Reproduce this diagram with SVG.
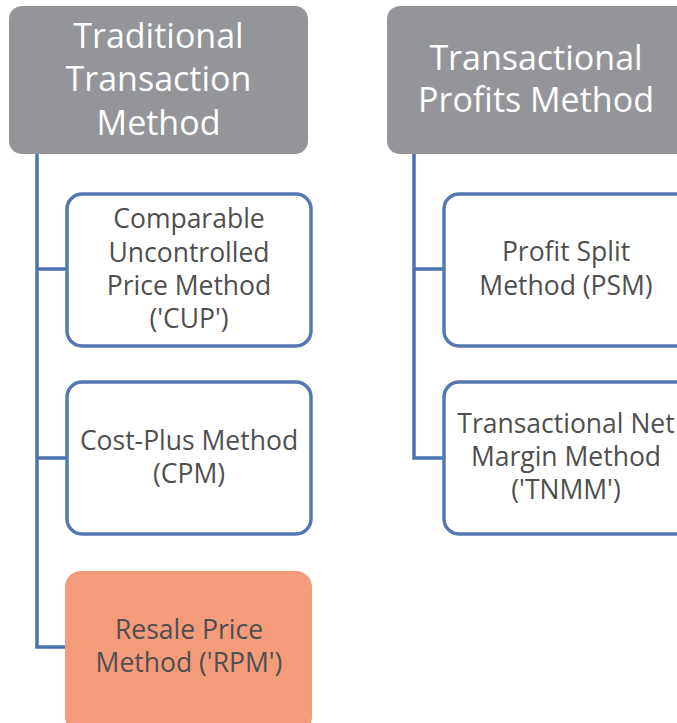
<svg xmlns="http://www.w3.org/2000/svg" width="677" height="723" viewBox="0 0 677 723">
<defs>
<style>
.hdr{fill:#949598;}
.hdrt{fill:#ffffff;font-family:"Open Sans","Noto Sans",sans-serif;font-size:34px;text-anchor:middle;}
.box{fill:#ffffff;stroke:#5578b3;stroke-width:3.5;}
.hot{fill:#f49b7b;stroke:#f39a7a;stroke-width:2;}
.bt{fill:#4f4f4f;font-family:"Open Sans","Noto Sans",sans-serif;font-size:26.5px;text-anchor:middle;}
.con{fill:none;stroke:#4b72b3;stroke-width:3.5;}
</style>
</defs>
<g id="connectors">
<path class="con" d="M37,154 V647 H67 M37,269 H67 M37,458 H67"/>
<path class="con" d="M414,154 V458 H444 M414,269 H444"/>
</g>
<g id="traditional">
<rect class="hdr" x="9" y="6" width="299" height="148" rx="13"/>
<text class="hdrt" x="158.5" y="48">Traditional</text>
<text class="hdrt" x="158.5" y="91">Transaction</text>
<text class="hdrt" x="158.5" y="135">Method</text>
</g>
<g id="transactional">
<rect class="hdr" x="387" y="6" width="310" height="148" rx="13"/>
<text class="hdrt" x="536" y="70">Transactional</text>
<text class="hdrt" x="536" y="112">Profits Method</text>
</g>
<g id="cup">
<rect class="box" x="67" y="194" width="244" height="152" rx="15"/>
<text class="bt" x="189" y="228">Comparable</text>
<text class="bt" x="189" y="262">Uncontrolled</text>
<text class="bt" x="189" y="295">Price Method</text>
<text class="bt" x="189" y="328">('CUP')</text>
</g>
<g id="cpm">
<rect class="box" x="67" y="382" width="244" height="152" rx="15"/>
<text class="bt" x="189" y="450">Cost-Plus Method</text>
<text class="bt" x="189" y="483">(CPM)</text>
</g>
<g id="rpm">
<rect class="hot" x="66" y="572" width="245" height="160" rx="15"/>
<text class="bt" x="189" y="639">Resale Price</text>
<text class="bt" x="189" y="672">Method ('RPM')</text>
</g>
<g id="psm">
<rect class="box" x="444" y="194" width="260" height="152" rx="15"/>
<text class="bt" x="566" y="261">Profit Split</text>
<text class="bt" x="566" y="295">Method (PSM)</text>
</g>
<g id="tnmm">
<rect class="box" x="444" y="382" width="260" height="152" rx="15"/>
<text class="bt" x="566" y="433">Transactional Net</text>
<text class="bt" x="566" y="466">Margin Method</text>
<text class="bt" x="566" y="499">('TNMM')</text>
</g>
</svg>
